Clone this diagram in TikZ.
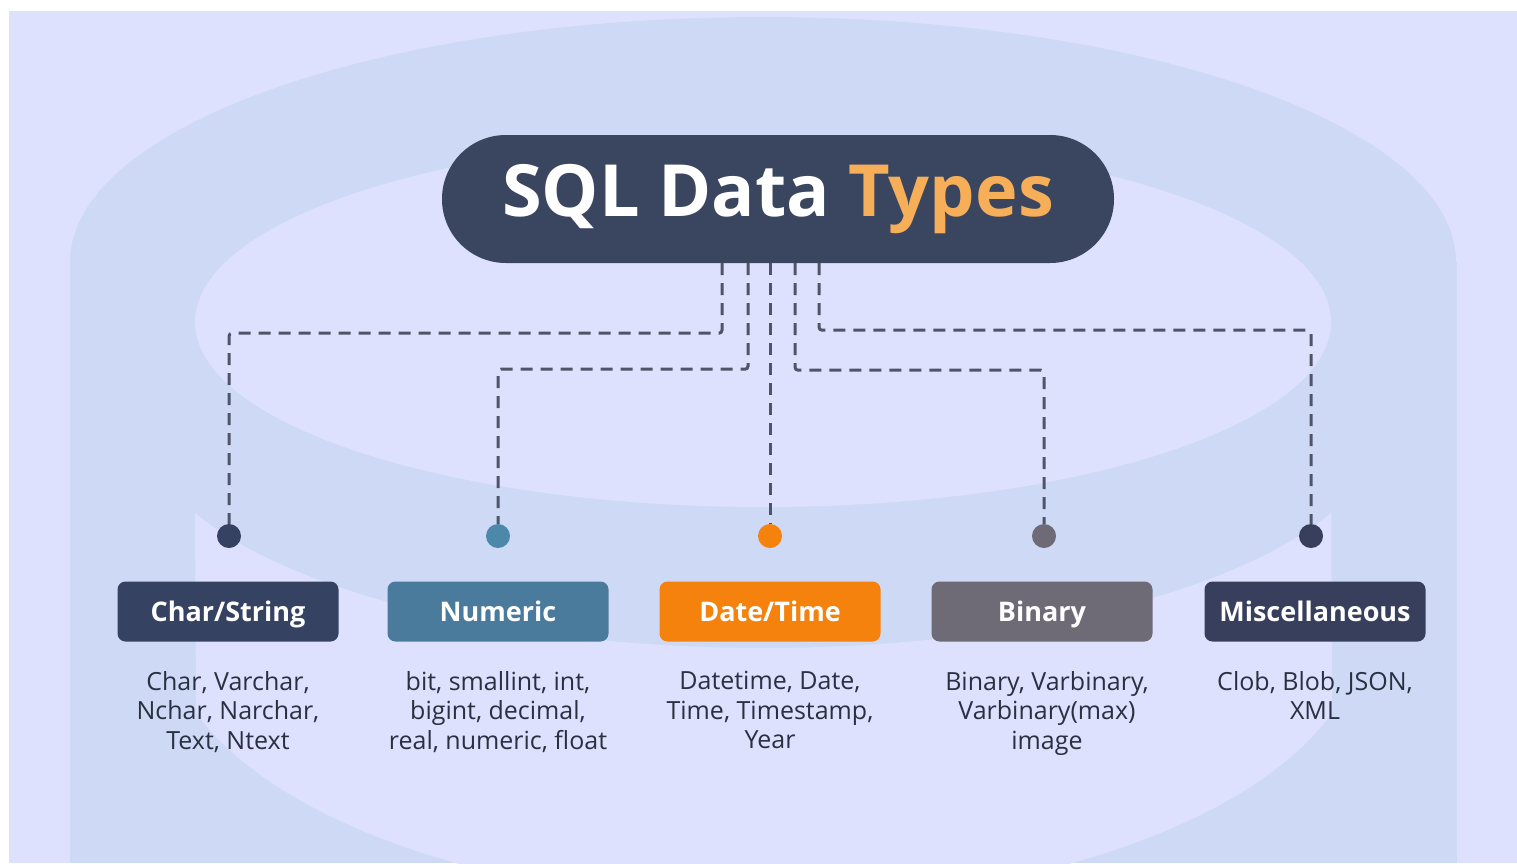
\documentclass[tikz,border=0pt]{standalone}
\usepackage{fontspec}
\setmainfont{Open Sans}
\usetikzlibrary{calc}
\definecolor{bgl}{HTML}{DEE1FD}
\definecolor{bgd}{HTML}{CED9F5}
\definecolor{navy}{HTML}{3A4560}
\definecolor{cat1}{HTML}{364261}
\definecolor{cat2}{HTML}{4A7B9C}
\definecolor{cat3}{HTML}{F5820C}
\definecolor{cat4}{HTML}{6E6A76}
\definecolor{cat5}{HTML}{383F5C}
\definecolor{dot2}{HTML}{4C88AA}
\definecolor{ttl}{HTML}{F6AE58}
\definecolor{conncol}{HTML}{4F5469}
\definecolor{desc}{HTML}{283041}
\begin{document}
\begin{tikzpicture}[x=1pt,y=-1pt,
  catbox/.style={rectangle, rounded corners=8pt, minimum width=221pt, minimum height=60pt, inner sep=0pt, text height=19.3pt, text depth=0pt, text=white, font=\fontsize{27}{30}\selectfont\bfseries},
  dotnode/.style={circle, minimum size=24pt, inner sep=0pt},
  desctext/.style={align=center, text=desc, font=\fontsize{25}{29.5}\selectfont, anchor=north, inner sep=0pt},
  connector/.style={draw=conncol, line width=3pt, dash pattern=on 12pt off 8pt, rounded corners=3pt}]

\useasboundingbox (0,0) rectangle (1517,863);
\fill[white] (0,0) rectangle (1517,863);
\fill[bgl] (9,11) rectangle (1517,863);
\begin{scope}
\clip (9,11) rectangle (1517,863);
\fill[bgd] (763,262) ellipse[x radius=693, y radius=245];
\fill[bgd] (70,262) rectangle (1457,863);
\fill[bgl] (763,322) ellipse[x radius=568, y radius=185];
\fill[bgl] (195,513) arc[start angle=156.4, end angle=23.6, x radius=620, y radius=225]
  -- (1332,713) arc[start angle=18.8, end angle=161.2, x radius=600, y radius=280] -- cycle;
\end{scope}

% title
\node[fill=navy, rounded corners=63.9pt, minimum width=672pt, minimum height=128pt, inner sep=0pt] (title) at (778,199)
  {\fontsize{72}{80}\selectfont\bfseries\textcolor{white}{SQL Data} \textcolor{ttl}{Types}};

% dots
\node[dotnode, fill=cat1] (d1) at (229,536) {};
\node[dotnode, fill=dot2] (d2) at (498,536) {};
\node[dotnode, fill=cat3] (d3) at (770,536) {};
\node[dotnode, fill=cat4] (d4) at (1044,536) {};
\node[dotnode, fill=cat5] (d5) at (1311,536) {};

% connectors
\draw[connector] ($(title.south)+(-56,0)$) -- ++(0,70) -| (d1.north);
\draw[connector] ($(title.south)+(-30,0)$) -- ++(0,106) -| (d2.north);
\draw[connector] (title.south -| d3.north) -- (d3.north);
\draw[connector] ($(title.south)+(17,0)$) -- ++(0,107) -| (d4.north);
\draw[connector] ($(title.south)+(41,0)$) -- ++(0,67) -| (d5.north);

% category boxes
\node[catbox, fill=cat1] (c1) at (228,611.5) {Char/String};
\node[catbox, fill=cat2] (c2) at (498,611.5) {Numeric};
\node[catbox, fill=cat3] (c3) at (770,611.5) {Date/Time};
\node[catbox, fill=cat4] (c4) at (1042,611.5) {Binary};
\node[catbox, fill=cat5] (c5) at (1315,611.5) {Miscellaneous};

% descriptions
\node[desctext] (t1) at (228,671) {Char, Varchar,\\Nchar, Narchar,\\Text, Ntext};
\node[desctext] (t2) at (498,671) {bit, smallint, int,\\bigint, decimal,\\real, numeric, float};
\node[desctext] (t3) at (770,671) {Datetime, Date,\\Time, Timestamp,\\Year};
\node[desctext] (t4) at (1047,671) {Binary, Varbinary,\\Varbinary(max)\\image};
\node[desctext] (t5) at (1315,671) {Clob, Blob, JSON,\\XML};
\end{tikzpicture}
\end{document}
